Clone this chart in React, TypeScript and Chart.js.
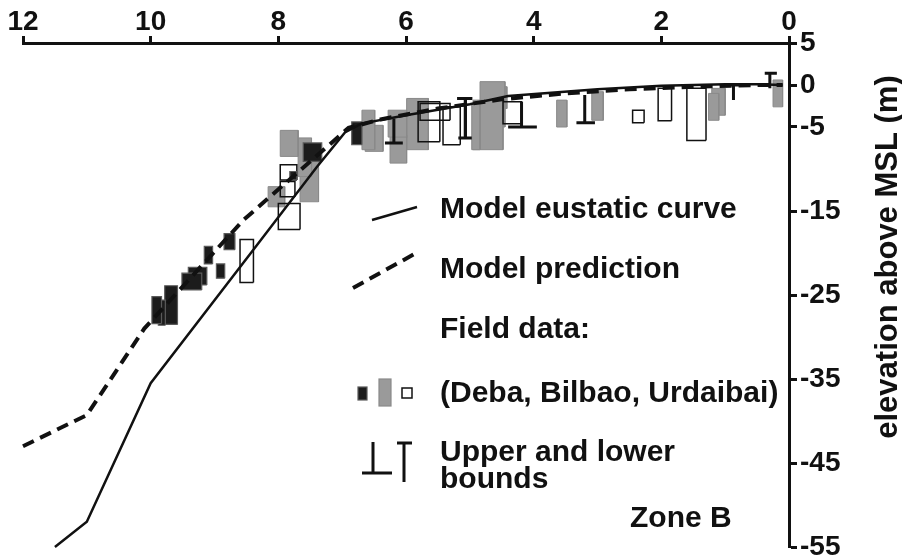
import React, { useEffect, useRef } from 'react';
import { Chart, registerables } from 'chart.js';

Chart.register(...registerables);

const FONT = '"Liberation Sans", Arial, Helvetica, sans-serif';

// Axis ticks
const xTicks = [12, 10, 8, 6, 4, 2, 0];
const yTicks = [5, 0, -5, -15, -25, -35, -45, -55];

// Model eustatic curve (solid)
const eustaticAge = [11.5, 11.0, 10.0, 8.4, 7.4, 6.95, 6.7, 6.0, 5.0, 4.4, 3.0, 2.0, 1.0, 0.5, 0.1];
const eustaticElev = [-55, -52, -35.5, -19.7, -9.8, -5.6, -4.6, -3.6, -2.3, -1.3, -0.5, -0.1, 0.1, 0.1, 0];

// Model prediction (dashed)
const predictionAge = [12.0, 11.0, 10.1, 8.55, 6.9, 6.4, 5.5, 4.5, 3.5, 2.5, 1.5, 0.5, 0.1];
const predictionElev = [-43, -39.3, -29, -16.1, -5.1, -4.1, -2.8, -1.7, -1.0, -0.5, -0.2, 0, 0];

// Field data boxes: [age from, age to, elevation bottom, elevation top]
const debaBoxes = [
  [9.83, 9.98, -28.4, -25.2],
  [9.77, 9.88, -28.6, -25.6],
  [9.58, 9.78, -28.5, -23.9],
  [9.2, 9.51, -24.4, -22.4],
  [9.12, 9.41, -23.8, -21.7],
  [9.03, 9.16, -21.3, -19.2],
  [8.84, 8.97, -23.0, -21.3],
  [8.68, 8.85, -19.6, -17.7],
  [7.32, 7.61, -9.1, -6.9],
  [7.71, 7.82, -11.3, -10.3],
  [6.69, 6.85, -7.1, -4.4],
];

const bilbaoBoxes = [
  [7.69, 7.97, -8.5, -5.4],
  [7.48, 7.69, -10.9, -6.3],
  [7.37, 7.66, -13.9, -8.9],
  [7.9, 8.16, -14.5, -12.1],
  [6.49, 6.69, -7.7, -3.0],
  [6.36, 6.64, -7.9, -4.8],
  [5.99, 6.28, -6.2, -3.0],
  [5.99, 6.25, -9.3, -6.0],
  [5.65, 5.99, -7.7, -1.6],
  [4.84, 4.97, -7.7, -2.2],
  [4.48, 4.95, -7.7, -1.8],
  [4.45, 4.84, -5.0, 0.4],
  [4.42, 4.68, -2.8, -0.2],
  [3.48, 3.64, -5.0, -1.8],
  [2.91, 3.09, -4.2, -0.8],
  [1.1, 1.26, -4.2, -1.0],
  [1.0, 1.21, -3.6, -0.4],
  [0.1, 0.25, -2.6, 0.6],
];

const urdaibaiBoxes = [
  [8.39, 8.6, -23.5, -18.4],
  [7.71, 7.97, -11.3, -9.5],
  [7.74, 7.97, -13.3, -11.5],
  [7.66, 8.0, -17.2, -14.1],
  [5.47, 5.81, -6.75, -2.0],
  [5.31, 5.78, -4.2, -2.2],
  [5.15, 5.42, -7.1, -2.6],
  [4.19, 4.48, -4.6, -2.0],
  [2.27, 2.45, -4.5, -3.0],
  [1.84, 2.05, -4.25, -0.4],
  [1.3, 1.6, -6.6, -0.4],
];

// Lower bounds (⊥): [age, top, bar elevation, bar from, bar to]
const lowerBounds = [
  [6.19, -4.0, -6.9, 6.05, 6.33],
  [4.19, -2.0, -5.0, 3.95, 4.4],
  [3.2, -1.2, -4.5, 3.04, 3.33],
  [5.07, -1.6, -6.3, 4.97, 5.18],
];
// Upper bounds (T): [age, bar elevation, bottom, bar from, bar to]
const upperBounds = [
  [5.07, -1.6, -6.3, 4.96, 5.2],
  [0.87, 0.0, -1.8, 0.78, 0.96],
  [0.3, 1.4, -0.4, 0.19, 0.38],
];

const toPoints = (xs: number[], ys: number[]) => xs.map((x, i) => ({ x, y: ys[i] }));
const rect = (b: number[]) => [
  { x: b[0], y: b[2] },
  { x: b[1], y: b[2] },
  { x: b[1], y: b[3] },
  { x: b[0], y: b[3] },
  { x: b[0], y: b[2] },
];

const base = {
  type: 'line' as const,
  pointRadius: 0,
  pointHoverRadius: 0,
  pointHitRadius: 0,
  tension: 0,
  borderJoinStyle: 'miter' as const,
};

function buildDatasets() {
  const ds: any[] = [];
  ds.push({
    ...base,
    label: 'Model eustatic curve',
    data: toPoints(eustaticAge, eustaticElev),
    borderColor: '#111',
    borderWidth: 2.5,
    fill: false,
    order: 0,
    clip: false,
  });
  ds.push({
    ...base,
    label: 'Model prediction',
    data: toPoints(predictionAge, predictionElev),
    borderColor: '#111',
    borderWidth: 4,
    borderDash: [12, 7],
    fill: false,
    order: 0,
    clip: false,
  });
  lowerBounds.forEach((b) => {
    ds.push({
      ...base,
      label: 'lower',
      data: [
        { x: b[0], y: b[1] },
        { x: b[0], y: b[2] },
        { x: b[3], y: b[2] },
        { x: b[4], y: b[2] },
      ],
      borderColor: '#111',
      borderWidth: 3,
      fill: false,
      order: 1,
    });
  });
  upperBounds.forEach((b) => {
    ds.push({
      ...base,
      label: 'upper',
      data: [
        { x: b[0], y: b[2] },
        { x: b[0], y: b[1] },
        { x: b[3], y: b[1] },
        { x: b[4], y: b[1] },
      ],
      borderColor: '#111',
      borderWidth: 3,
      fill: false,
      order: 1,
    });
  });
  debaBoxes.forEach((b) => {
    ds.push({
      ...base,
      label: 'Deba',
      data: rect(b),
      borderColor: '#5a5a5a',
      backgroundColor: '#1c1c1c',
      borderWidth: 1.2,
      fill: 'shape',
      order: 2,
    });
  });
  urdaibaiBoxes.forEach((b) => {
    ds.push({
      ...base,
      label: 'Urdaibai',
      data: rect(b),
      borderColor: '#111',
      borderWidth: 1.5,
      fill: false,
      order: 3,
    });
  });
  bilbaoBoxes.forEach((b) => {
    ds.push({
      ...base,
      label: 'Bilbao',
      data: rect(b),
      borderColor: '#8a8a8a',
      backgroundColor: '#9a9a9a',
      borderWidth: 1,
      fill: 'shape',
      order: 4,
    });
  });
  return ds;
}

const titlePlugin = {
  id: 'yTitleLeftReading',
  afterDraw(chart: any) {
    const ctx = chart.ctx;
    const ys = chart.scales.y;
    ctx.save();
    ctx.translate(ys.left + 99, 257);
    ctx.rotate(-Math.PI / 2);
    ctx.font = `bold 31px ${FONT}`;
    ctx.textAlign = 'center';
    ctx.textBaseline = 'middle';
    ctx.fillStyle = '#111';
    ctx.fillText('elevation above MSL (m)', 0, 0);
    ctx.restore();
  },
};

const legendPlugin = {
  id: 'customLegend',
  afterDraw(chart: any) {
    const ctx = chart.ctx;
    ctx.save();
    ctx.strokeStyle = '#111';
    ctx.lineCap = 'butt';
    // solid
    ctx.lineWidth = 2.5;
    ctx.beginPath();
    ctx.moveTo(372, 220);
    ctx.lineTo(417, 207);
    ctx.stroke();
    // dashed
    ctx.lineWidth = 4;
    ctx.setLineDash([12, 7]);
    ctx.beginPath();
    ctx.moveTo(353, 288);
    ctx.lineTo(418, 252);
    ctx.stroke();
    ctx.setLineDash([]);
    // boxes
    ctx.fillStyle = '#1c1c1c';
    ctx.strokeStyle = '#5a5a5a';
    ctx.lineWidth = 1.2;
    ctx.fillRect(358, 387, 9, 13);
    ctx.strokeRect(358, 387, 9, 13);
    ctx.fillStyle = '#9a9a9a';
    ctx.strokeStyle = '#8a8a8a';
    ctx.fillRect(379, 379, 12, 27);
    ctx.strokeRect(379, 379, 12, 27);
    ctx.fillStyle = '#fff';
    ctx.strokeStyle = '#111';
    ctx.lineWidth = 1.5;
    ctx.fillRect(402, 388, 10, 10);
    ctx.strokeRect(402, 388, 10, 10);
    // bounds
    ctx.lineWidth = 3;
    ctx.beginPath();
    ctx.moveTo(373, 442);
    ctx.lineTo(373, 473);
    ctx.moveTo(362, 473);
    ctx.lineTo(392, 473);
    ctx.moveTo(397, 443);
    ctx.lineTo(412, 443);
    ctx.moveTo(404, 443);
    ctx.lineTo(404, 482);
    ctx.stroke();
    // text
    ctx.fillStyle = '#111';
    ctx.font = `bold 30px ${FONT}`;
    ctx.textAlign = 'left';
    ctx.textBaseline = 'alphabetic';
    ctx.fillText('Model eustatic curve', 440, 218);
    ctx.fillText('Model prediction', 440, 278);
    ctx.fillText('Field data:', 440, 338);
    ctx.fillText('(Deba, Bilbao, Urdaibai)', 440, 402);
    ctx.fillText('Upper and lower', 440, 461);
    ctx.fillText('bounds', 440, 488);
    ctx.fillText('Zone B', 630, 527);
    ctx.restore();
  },
};

export default function App() {
  const ref = useRef<HTMLCanvasElement>(null);
  useEffect(() => {
    const canvas = ref.current;
    if (!canvas) return;
    const chart = new Chart(canvas, {
      type: 'line',
      data: { datasets: buildDatasets() },
      options: {
        responsive: false,
        animation: false,
        devicePixelRatio: 1,
        events: [],
        layout: { padding: { left: 23, right: 0, top: 0, bottom: 10 } },
        plugins: {
          legend: { display: false },
          tooltip: { enabled: false },
          title: { display: false },
        },
        scales: {
          x: {
            type: 'linear',
            position: 'top',
            min: 0,
            max: 12,
            reverse: true,
            afterBuildTicks: (s: any) => {
              s.ticks = xTicks.map((v) => ({ value: v }));
            },
            afterFit: (s: any) => {
              s.height = 43;
              s.paddingLeft = 0;
              s.paddingRight = 0;
            },
            grid: {
              drawOnChartArea: false,
              drawTicks: true,
              tickLength: 7,
              tickWidth: 3,
              tickColor: '#111',
            },
            border: { display: true, width: 3, color: '#111' },
            ticks: {
              color: '#111',
              padding: 0,
              maxRotation: 0,
              autoSkip: false,
              font: { family: FONT, size: 28, weight: 'bold', lineHeight: 1 },
              callback: (v: any) => String(v),
            },
          },
          y: {
            type: 'linear',
            position: 'right',
            min: -55,
            max: 5,
            afterBuildTicks: (s: any) => {
              s.ticks = yTicks.map((v) => ({ value: v }));
            },
            afterFit: (s: any) => {
              s.width = 113;
              s.paddingTop = 0;
              s.paddingBottom = 0;
            },
            grid: {
              drawOnChartArea: false,
              drawTicks: true,
              tickLength: 8,
              tickWidth: 3,
              tickColor: '#111',
            },
            border: { display: true, width: 3, color: '#111' },
            ticks: {
              color: '#111',
              padding: 3,
              autoSkip: false,
              font: { family: FONT, size: 28, weight: 'bold', lineHeight: 1 },
              callback: (v: any) => String(v),
            },
          },
        },
      } as any,
      plugins: [titlePlugin, legendPlugin],
    });
    return () => chart.destroy();
  }, []);
  return (
    <div style={{ position: 'fixed', left: 0, top: 0, width: 902, height: 557, background: '#fff' }}>
      <canvas ref={ref} width={902} height={557} style={{ display: 'block' }} />
    </div>
  );
}
